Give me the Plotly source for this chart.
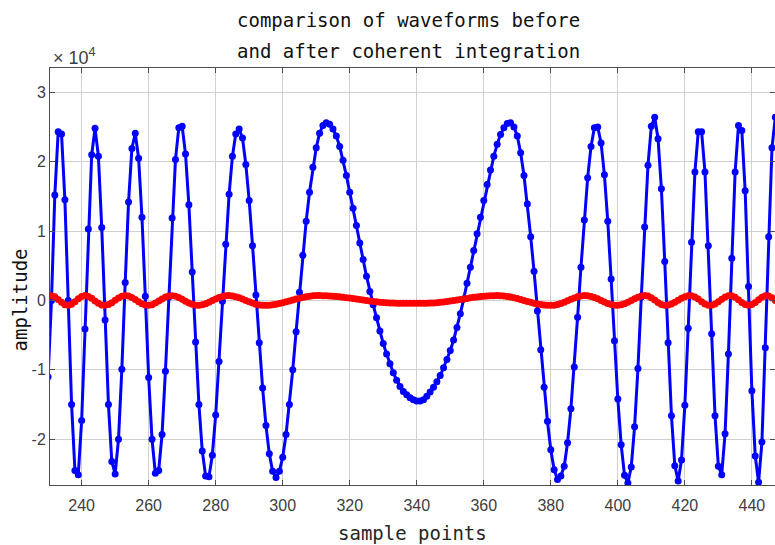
import plotly.graph_objects as go

# ---- data ----
sample_points = list(range(230, 448))

before_integration = [
    -11000, 0, 15200, 24300, 24000, 14500, 0, -15000, -24500, -25100,          # 230-239
    -17300, -4100, 10300, 21000, 24800, 20800, 10500, -2800, -15000, -23200,    # 240-249
    -25000, -20000, -9900, 2600, 14200, 21900, 24100, 20500, 12000, 600,        # 250-259
    -11100, -20000, -24900, -24500, -19300, -10200, 500, 11900, 20300, 24900,   # 260-269
    25100, 21100, 13800, 4100, -6000, -15000, -21700, -25300, -25400, -22300,   # 270-279
    -16500, -8800, -100, 8100, 15300, 20800, 24000, 24700, 23400, 19600,        # 280-289
    14400, 7900, 800, -6100, -12600, -18000, -22100, -24600, -25500, -24600,    # 290-299
    -22600, -19300, -15000, -10000, -4500, 1200, 6500, 11400, 15600, 19200,     # 300-309
    22000, 24100, 25200, 25600, 25400, 24700, 23700, 22200, 20200, 18000,       # 310-319
    15600, 13300, 10800, 8300, 5900, 3500, 1300, -600, -2500, -4400,            # 320-329
    -6200, -7700, -9100, -10400, -11500, -12400, -13100, -13600, -14000, -14300,  # 330-339
    -14500, -14500, -14300, -13800, -13200, -12500, -11700, -10800, -9700, -8500,  # 340-349
    -7200, -5700, -3900, -1900, 200, 2500, 4800, 7200, 9600, 12000,             # 350-359
    14400, 16700, 18800, 20800, 22500, 23900, 24900, 25500, 25600, 25000,       # 360-369
    23700, 21300, 18000, 13900, 9200, 4200, -1500, -7100, -12500, -17400,       # 370-379
    -21500, -24400, -25800, -25300, -23900, -20500, -15600, -9600, -2400, 4800, # 380-389
    11600, 17700, 22200, 24900, 25000, 22700, 18100, 11400, 3100, -5800,        # 390-399
    -14200, -20800, -25200, -26300, -24000, -18200, -9800, 500, 10600, 19500,   # 400-409
    25100, 26400, 23300, 16100, 5600, -6100, -16600, -23800, -26000, -23000,    # 410-419
    -15100, -4000, 8400, 18500, 24300, 24300, 18500, 7900, -4800, -16600,       # 420-429
    -23900, -25100, -19200, -7700, 6100, 18500, 25200, 24500, 15800, 2000,      # 430-439
    -13000, -22400, -26200, -20400, -6800, 9200, 22000, 26400,                  # 440-447
]

after_integration = [
    620, 690, 520, 150, -270, -600, -700, -540, -170, 260,          # 230-239
    590, 700, 580, 310, -60, -400, -640, -700, -570, -310,          # 240-249
    40, 370, 610, 700, 630, 420, 130, -190, -470, -650,             # 250-259
    -700, -600, -380, -80, 230, 500, 660, 690, 610, 430,            # 260-269
    180, -100, -360, -560, -680, -690, -620, -470, -260, -20,       # 270-279
    220, 430, 590, 680, 700, 640, 540, 390, 210, 10,                # 280-289
    -190, -370, -530, -640, -690, -700, -670, -620, -540, -440,     # 290-299
    -330, -200, -70, 70, 200, 330, 440, 540, 620, 670,              # 300-309
    700, 700, 690, 670, 650, 610, 570, 520, 460, 400,               # 310-319
    340, 270, 200, 130, 60, -10, -70, -140, -190, -240,             # 320-329
    -290, -330, -360, -380, -400, -400, -400, -400, -400, -400,     # 330-339
    -400, -400, -400, -400, -380, -350, -310, -270, -210, -150,     # 340-349
    -80, -10, 70, 150, 230, 300, 380, 450, 510, 570,                # 350-359
    610, 650, 680, 690, 700, 690, 650, 580, 490, 390,               # 360-369
    270, 140, 0, -140, -270, -390, -490, -580, -650, -690,          # 370-379
    -700, -670, -570, -430, -240, -30, 180, 370, 530, 650,          # 380-389
    700, 680, 590, 440, 240, 10, -220, -420, -580, -680,            # 390-399
    -700, -630, -480, -260, 0, 260, 480, 630, 700, 640,             # 400-409
    410, 70, -280, -570, -700, -660, -510, -260, 30, 320,           # 410-419
    540, 680, 680, 510, 200, -170, -490, -680, -680, -490,          # 420-429
    -180, 180, 490, 680, 670, 460, 100, -290, -590, -700,           # 430-439
    -590, -280, 120, 480, 680, 650, 390, -20,                       # 440-447
]

x_tick_values = [240, 260, 280, 300, 320, 340, 360, 380, 400, 420, 440]
y_tick_values = [-20000, -10000, 0, 10000, 20000, 30000]
y_tick_labels = ["-2", "-1", "0", "1", "2", "3"]

title_lines = ["comparison of waveforms before", "and after coherent integration"]
x_label = "sample points"
y_label = "amplitude"

MONO = "DejaVu Sans Mono, Liberation Mono, monospace"
SANS = "Liberation Sans, Arial, sans-serif"
AXIS_COL = "#4d4d4d"
GRID_COL = "#d0d0d0"

fig = go.Figure()
fig.add_trace(go.Scatter(
    x=sample_points, y=before_integration, mode="lines+markers",
    line=dict(color="#0000ff", width=3),
    marker=dict(color="#0000ff", size=7),
    showlegend=False, hoverinfo="x+y",
))
fig.add_trace(go.Scatter(
    x=sample_points, y=after_integration, mode="lines+markers",
    line=dict(color="#ff0000", width=3),
    marker=dict(color="#ff0000", size=7),
    showlegend=False, hoverinfo="x+y",
))

fig.update_layout(
    width=775, height=545, autosize=False,
    margin=dict(l=50, r=0, t=68, b=60, pad=0),
    paper_bgcolor="white", plot_bgcolor="white",
    xaxis=dict(
        range=[230.56, 446.9], tickmode="array", tickvals=x_tick_values,
        ticks="inside", ticklen=5, tickcolor=AXIS_COL, tickwidth=1,
        showline=True, linecolor=AXIS_COL, linewidth=1, mirror="ticks",
        showgrid=True, gridcolor=GRID_COL, gridwidth=1, zeroline=False,
        tickfont=dict(family=SANS, size=16, color="#404040"),
        ticklabelstandoff=6, automargin=False,
    ),
    yaxis=dict(
        range=[-26590, 33500], tickmode="array", tickvals=y_tick_values, ticktext=y_tick_labels,
        ticks="inside", ticklen=5, tickcolor=AXIS_COL, tickwidth=1,
        showline=True, linecolor=AXIS_COL, linewidth=1, mirror="ticks",
        showgrid=True, gridcolor=GRID_COL, gridwidth=1, zeroline=False,
        tickfont=dict(family=SANS, size=16, color="#404040"),
        automargin=False,
    ),
    annotations=[
        dict(text=title_lines[0], xref="paper", yref="paper", x=0.495, y=1.115,
             xanchor="center", yanchor="middle", showarrow=False,
             font=dict(family=MONO, size=19, color="#111111")),
        dict(text=title_lines[1], xref="paper", yref="paper", x=0.495, y=1.041,
             xanchor="center", yanchor="middle", showarrow=False,
             font=dict(family=MONO, size=19, color="#111111")),
        dict(text=x_label, xref="paper", yref="paper", x=0.5, y=-0.115,
             xanchor="center", yanchor="middle", showarrow=False,
             font=dict(family=MONO, size=19, color="#262626")),
        dict(text=y_label, xref="paper", yref="paper", x=-0.0414, y=0.445,
             xanchor="center", yanchor="middle", textangle=-90, showarrow=False,
             font=dict(family=MONO, size=19, color="#111111")),
        dict(text="\u00d7 10<sup>4</sup>", xref="paper", yref="paper", x=0.002, y=1.027,
             xanchor="left", yanchor="middle", showarrow=False,
             font=dict(family=SANS, size=18, color="#404040")),
    ],
)

fig.write_html(
    "out.html",
    config={"displayModeBar": False},
    post_script="document.body.style.margin='0';document.body.style.overflow='hidden';",
)
